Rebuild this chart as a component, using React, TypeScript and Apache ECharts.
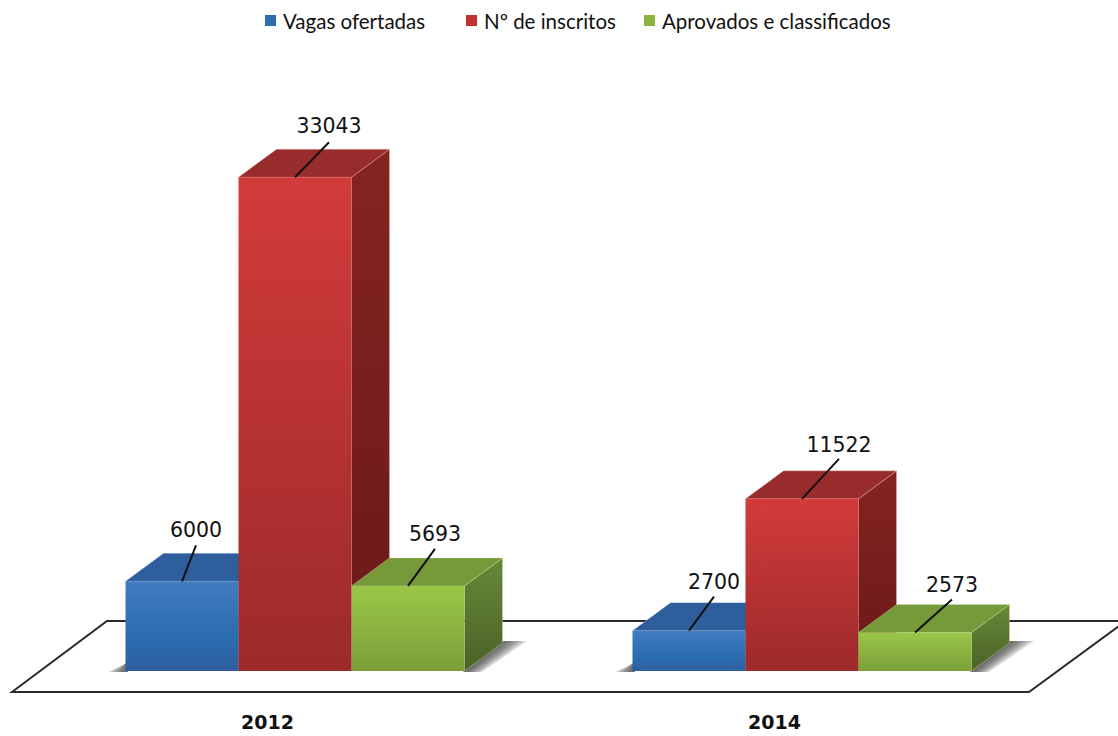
import React, { useEffect, useRef } from "react";
import * as echarts from "echarts";

const years = ["2012", "2014"];
const seriesNames = ["Vagas ofertadas", "Nº de inscritos", "Aprovados e classificados"];
const vagas = [6000, 2700];
const inscritos = [33043, 11522];
const aprovados = [5693, 2573];

// Leader line end offset from each bar's front-top centre: [dx, dy] per year
const leaderOffsets = [
  [[14, -36], [25, -34]],
  [[34, -35], [37, -40]],
  [[27, -37], [37, -33]],
];
// Gap from leader end up to the label's centre, per year
const labelLift = [
  [15, 15],
  [16, 14],
  [15, 15],
];
const legendLefts = [260, 461, 639];

const palettes = [
  { legend: "#2f6db3", halo: "rgba(190,205,235,0.35)", front: [[0, "#437bc1"], [0.65, "#2a6cb0"], [1, "#305f9e"]], top: "#2e5f9c", side: ["#2a5588", "#234a78"] },
  { legend: "#c0322f", halo: "rgba(240,195,180,0.35)", front: [[0, "#d33b3b"], [1, "#9c2a2a"]], top: "#982c2c", side: ["#852420", "#69191a"] },
  { legend: "#8cb43f", halo: "rgba(215,230,185,0.35)", front: [[0, "#9ac748"], [1, "#7b9f38"]], top: "#76993a", side: ["#678838", "#4a6327"] },
];

const DEPTH_X = 38;
const DEPTH_Y = 28;
const BAR_FRACTION = 113 / 507;
const SHADOW_STEPS = [4, 8, 12, 16, 20, 24];

function vGrad(stops: any[]) {
  return new echarts.graphic.LinearGradient(0, 0, 0, 1, stops.map(([offset, color]) => ({ offset, color })));
}

function barRenderer(seriesIndex: number) {
  const pal = palettes[seriesIndex];
  return (params: any, api: any) => {
    const cat = api.value(0);
    const value = api.value(1);
    const base = api.coord([cat, 0]);
    const top = api.coord([cat, value]);
    const w = api.size([1, 0])[0] * BAR_FRACTION;
    const x0 = base[0] + (seriesIndex - 1.5) * w - 0.5;
    const x1 = x0 + w;
    const y0 = top[1];
    const y1 = base[1];
    const cx = (x0 + x1) / 2;
    const [dx, dy] = leaderOffsets[seriesIndex][params.dataIndex];
    return {
      type: "group",
      children: [
        {
          type: "polygon",
          shape: { points: [[x1, y0], [x1 + DEPTH_X, y0 - DEPTH_Y], [x1 + DEPTH_X, y1 - DEPTH_Y], [x1, y1]] },
          style: { fill: vGrad([[0, pal.side[0]], [1, pal.side[1]]]), stroke: pal.halo, lineWidth: 1 },
        },
        {
          type: "polygon",
          shape: { points: [[x0, y0], [x0 + DEPTH_X, y0 - DEPTH_Y], [x1 + DEPTH_X, y0 - DEPTH_Y], [x1, y0]] },
          style: { fill: pal.top, stroke: pal.halo, lineWidth: 1 },
        },
        {
          type: "rect",
          shape: { x: x0, y: y0, width: w, height: y1 - y0 },
          style: { fill: vGrad(pal.front) },
        },
        {
          type: "line",
          shape: { x1: cx, y1: y0, x2: cx + dx, y2: y0 + dy },
          style: { stroke: "#111", lineWidth: 2 },
        },
        {
          type: "text",
          x: cx + dx,
          y: y0 + dy - labelLift[seriesIndex][params.dataIndex],
          style: {
            text: String(value),
            fill: "#111",
            font: '20.5px "DejaVu Sans"',
            align: "center",
            verticalAlign: "middle",
          },
        },
      ],
    };
  };
}

function shadowRenderer(_params: any, api: any) {
  const base = api.coord([api.value(0), 0]);
  const w = api.size([1, 0])[0] * BAR_FRACTION;
  const left = base[0] - 1.5 * w;
  const right = base[0] + 1.5 * w;
  const y = base[1];
  const fill = "rgba(60,60,60,0.2)";
  return {
    type: "group",
    children: SHADOW_STEPS.flatMap((s) => [
      {
        type: "polygon",
        shape: { points: [[left - s * 0.75, y + 1], [left + 2, y - 12 + s * 0.15], [left + 2, y + 1]] },
        style: { fill },
      },
      {
        type: "polygon",
        shape: { points: [[right - 2, y + 1], [right + DEPTH_X, y - DEPTH_Y - 2], [right + DEPTH_X + s, y - DEPTH_Y - 2], [right + s * 0.7, y + 1]] },
        style: { fill },
      },
    ]),
  };
}

function toData(values: number[]) {
  return values.map((v, i) => [i, v]);
}

export default function App() {
  const ref = useRef<HTMLDivElement>(null);
  useEffect(() => {
    document.body.style.margin = "0";
    document.body.style.background = "#fff";
    const chart = echarts.init(ref.current!, undefined, { renderer: "svg" });
    chart.setOption({
      animation: false,
      backgroundColor: "#fff",
      legend: seriesNames.map((name, i) => ({
        data: [name],
        left: legendLefts[i],
        top: 5,
        icon: "rect",
        itemWidth: 11,
        itemHeight: 11,
        textStyle: { fontFamily: "Lato", fontSize: 20.5, color: "#111", padding: [0, 0, 0, 2] },
      })),
      grid: { left: 42, right: 62, top: 148, bottom: 65 },
      xAxis: {
        type: "category",
        data: years,
        axisLine: { show: false },
        axisTick: { show: false },
        axisLabel: {
          margin: 41,
          padding: [0, 56, 0, 0],
          fontFamily: "DejaVu Sans",
          fontWeight: "bold",
          fontSize: 19,
          color: "#111",
        },
      },
      yAxis: { type: "value", min: 0, max: 35000, show: false, splitLine: { show: false } },
      graphic: [
        {
          type: "polygon",
          z: 0,
          shape: { points: [[12, 692], [107, 621], [1126, 621], [1029, 692]] },
          style: { fill: "#fff", stroke: "#2a2a2a", lineWidth: 2 },
        },
      ],
      series: [
        {
          type: "custom",
          name: "base-shadow",
          z: 1,
          silent: true,
          renderItem: shadowRenderer,
          encode: { x: 0, y: 1 },
          data: toData([0, 0]),
        },
        ...[vagas, inscritos, aprovados].map((values, i) => ({
          type: "custom",
          name: seriesNames[i],
          z: 2 + i,
          renderItem: barRenderer(i),
          itemStyle: { color: palettes[i].legend },
          encode: { x: 0, y: 1 },
          data: toData(values),
        })),
      ],
    });
    return () => chart.dispose();
  }, []);
  return <div ref={ref} style={{ width: 1118, height: 736 }} />;
}
